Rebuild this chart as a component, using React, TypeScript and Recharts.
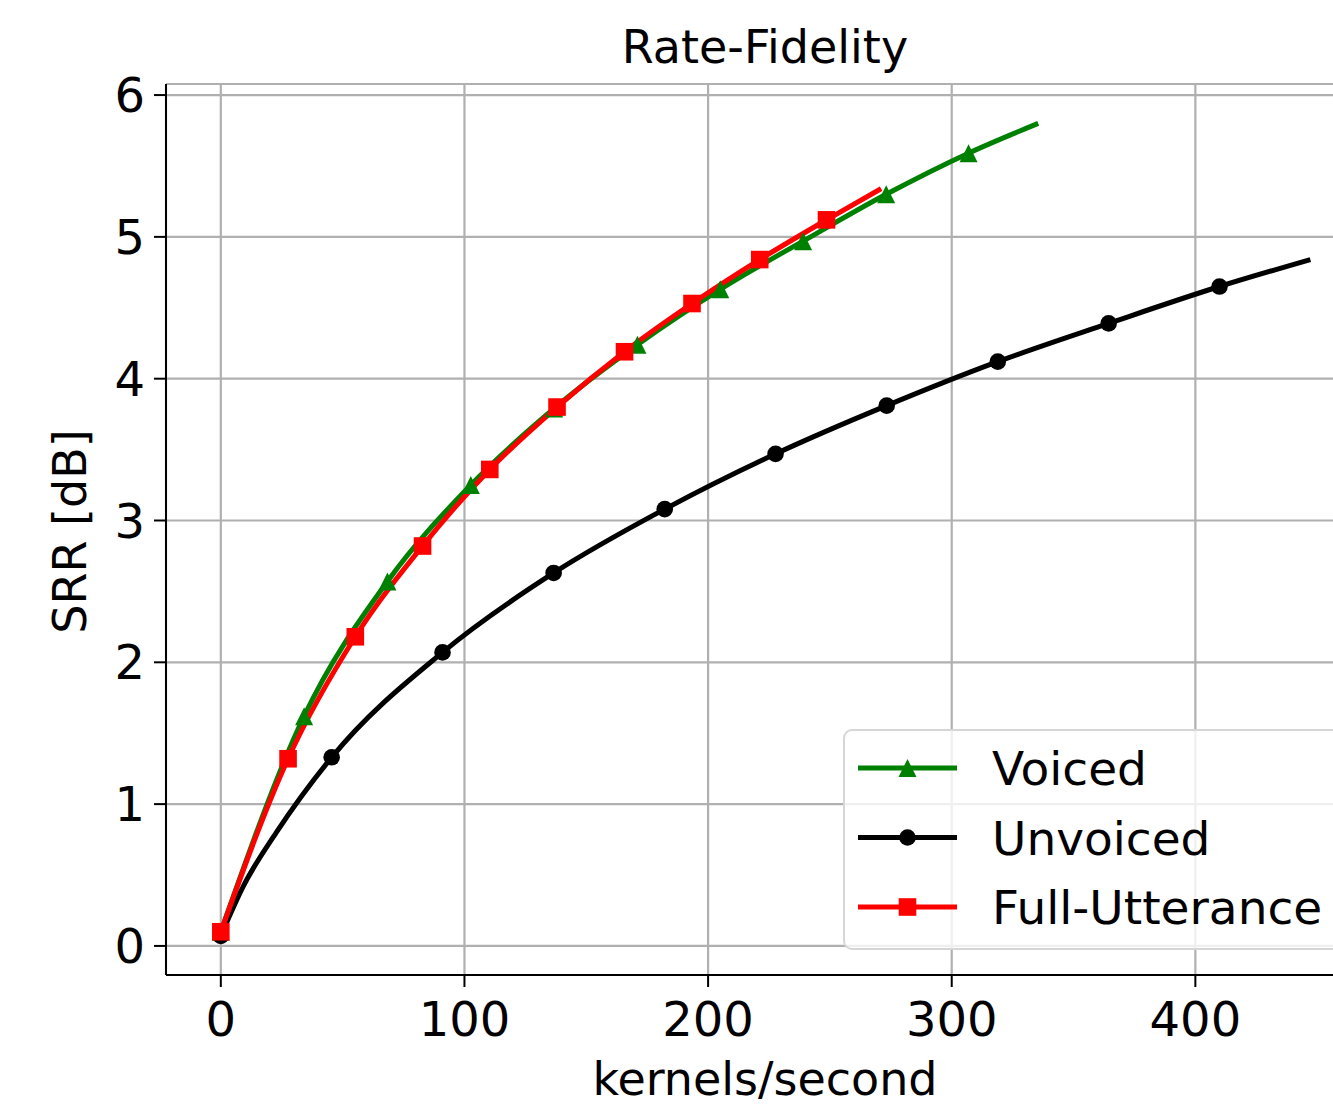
import React from 'react';
import { LineChart, Line, XAxis, YAxis, CartesianGrid, Legend } from 'recharts';

const FONT = '"DejaVu Sans", Verdana, sans-serif';

// values read at each plotted marker (kernels/second, SRR dB)
const voicedRate = [0, 34.2, 68.4, 102.6, 136.8, 171.0, 205.0, 239.0, 273.1, 306.9];
const voicedSrr = [0.10, 1.62, 2.57, 3.25, 3.79, 4.24, 4.63, 4.97, 5.30, 5.59];
const voicedEnd = [335.5, 5.80];

const unvoicedRate = [0, 45.5, 91.0, 136.6, 182.2, 227.7, 273.3, 318.9, 364.4, 409.9];
const unvoicedSrr = [0.07, 1.33, 2.07, 2.63, 3.08, 3.47, 3.81, 4.12, 4.39, 4.65];
const unvoicedEnd = [447.2, 4.84];
// unmarked points on the curve before the first marker
const unvoicedLead = [[9.2, 0.42], [22.8, 0.80]];

const fullRate = [0, 27.6, 55.2, 82.8, 110.4, 138.0, 165.7, 193.4, 221.2, 248.6];
const fullSrr = [0.10, 1.32, 2.18, 2.82, 3.36, 3.80, 4.19, 4.53, 4.84, 5.12];
const fullEnd = [271.0, 5.34];

const xTicks = [0, 100, 200, 300, 400];
const yTicks = [0, 1, 2, 3, 4, 5, 6];

type Pt = { rate: number; srr: number; mark: boolean };

const build = (rate: number[], srr: number[], end: number[], lead: number[][] = []): Pt[] =>
  [
    ...rate.map((r, i) => ({ rate: r, srr: srr[i], mark: true })),
    ...lead.map(([r, v]) => ({ rate: r, srr: v, mark: false })),
    { rate: end[0], srr: end[1], mark: false },
  ].sort((a, b) => a.rate - b.rate);

type Shape = 'triangle' | 'circle' | 'square';

const series: { name: string; color: string; shape: Shape; data: Pt[] }[] = [
  { name: 'Voiced', color: '#008000', shape: 'triangle', data: build(voicedRate, voicedSrr, voicedEnd) },
  { name: 'Unvoiced', color: '#000000', shape: 'circle', data: build(unvoicedRate, unvoicedSrr, unvoicedEnd, unvoicedLead) },
  { name: 'Full-Utterance', color: '#ff0000', shape: 'square', data: build(fullRate, fullSrr, fullEnd) },
];

function Marker({ cx, cy, shape, color }: { cx: number; cy: number; shape: Shape; color: string }) {
  if (shape === 'triangle') {
    return <polygon points={`${cx},${cy - 9} ${cx - 9},${cy + 9} ${cx + 9},${cy + 9}`} fill={color} />;
  }
  if (shape === 'circle') return <circle cx={cx} cy={cy} r={8.3} fill={color} />;
  return <rect x={cx - 8.8} y={cy - 8.8} width={17.6} height={17.6} fill={color} />;
}

const makeDot = (shape: Shape, color: string) => (p: any) => {
  const key = `${shape}-${p.index}`;
  if (!p.payload?.mark) return <g key={key} />;
  return (
    <g key={key}>
      <Marker cx={p.cx} cy={p.cy} shape={shape} color={color} />
    </g>
  );
};

function LegendBox() {
  return (
    <svg width={500} height={221} style={{ display: 'block' }}>
      <rect x={1} y={1} width={498} height={219} rx={8} fill="rgba(255,255,255,0.8)" stroke="#d6d6d6" strokeWidth={2} />
      {series.map((s, i) => {
        const y = 39 + i * 69.5;
        return (
          <g key={s.name}>
            <line x1={15} x2={114} y1={y} y2={y} stroke={s.color} strokeWidth={5} />
            <Marker cx={64.5} cy={y} shape={s.shape} color={s.color} />
            <text x={149} y={y + 17} fontSize={47} fontFamily={FONT} fill="#000">{s.name}</text>
          </g>
        );
      })}
    </svg>
  );
}

const tickStyle = { fill: '#000', fontSize: 48, fontFamily: FONT };
const axisLine = { stroke: '#000', strokeWidth: 2 };

export default function App() {
  return (
    <div style={{ position: 'absolute', left: 0, top: 0, width: 1333, height: 1106, overflow: 'hidden', background: '#fff' }}>
      <LineChart width={1400} height={1106} margin={{ top: 84, right: 28, bottom: 0, left: 0 }}>
        <CartesianGrid stroke="#b0b0b0" strokeWidth={2.2} />
        <XAxis
          dataKey="rate" type="number" domain={[-22.5, 472.5]} ticks={xTicks} allowDataOverflow
          height={131} tickSize={12} tickMargin={15} tick={tickStyle}
          axisLine={axisLine} tickLine={axisLine}
        />
        <XAxis
          xAxisId="top" orientation="top" type="number" domain={[-22.5, 472.5]}
          height={0} tick={false} tickLine={false} axisLine={axisLine}
        />
        <YAxis
          type="number" domain={[-0.205, 6.078]} ticks={yTicks} allowDataOverflow
          width={166} tickSize={12} tickMargin={9} tick={tickStyle}
          axisLine={axisLine} tickLine={axisLine}
        />
        <YAxis
          yAxisId="right" orientation="right" type="number" domain={[-0.205, 6.078]}
          width={0} tick={false} tickLine={false} axisLine={axisLine}
        />
        {series.map(s => (
          <Line
            key={s.name} data={s.data} dataKey="srr" name={s.name} type="monotone"
            stroke={s.color} strokeWidth={5} dot={makeDot(s.shape, s.color)} activeDot={false}
            isAnimationActive={false}
          />
        ))}
        <Legend
          content={<LegendBox />} layout="horizontal" align="center" verticalAlign="middle"
          wrapperStyle={{ left: 843, top: 729, width: 500, height: 221 }}
        />
      </LineChart>
      <svg width={1333} height={1106} style={{ position: 'absolute', left: 0, top: 0, pointerEvents: 'none' }}>
        <text x={765} y={63} textAnchor="middle" fontSize={46} fontFamily={FONT} fill="#000">Rate-Fidelity</text>
        <text x={765} y={1095} textAnchor="middle" fontSize={46} fontFamily={FONT} fill="#000">kernels/second</text>
        <text transform="translate(86,531.5) rotate(-90)" textAnchor="middle" fontSize={46} fontFamily={FONT} fill="#000">SRR [dB]</text>
      </svg>
    </div>
  );
}
